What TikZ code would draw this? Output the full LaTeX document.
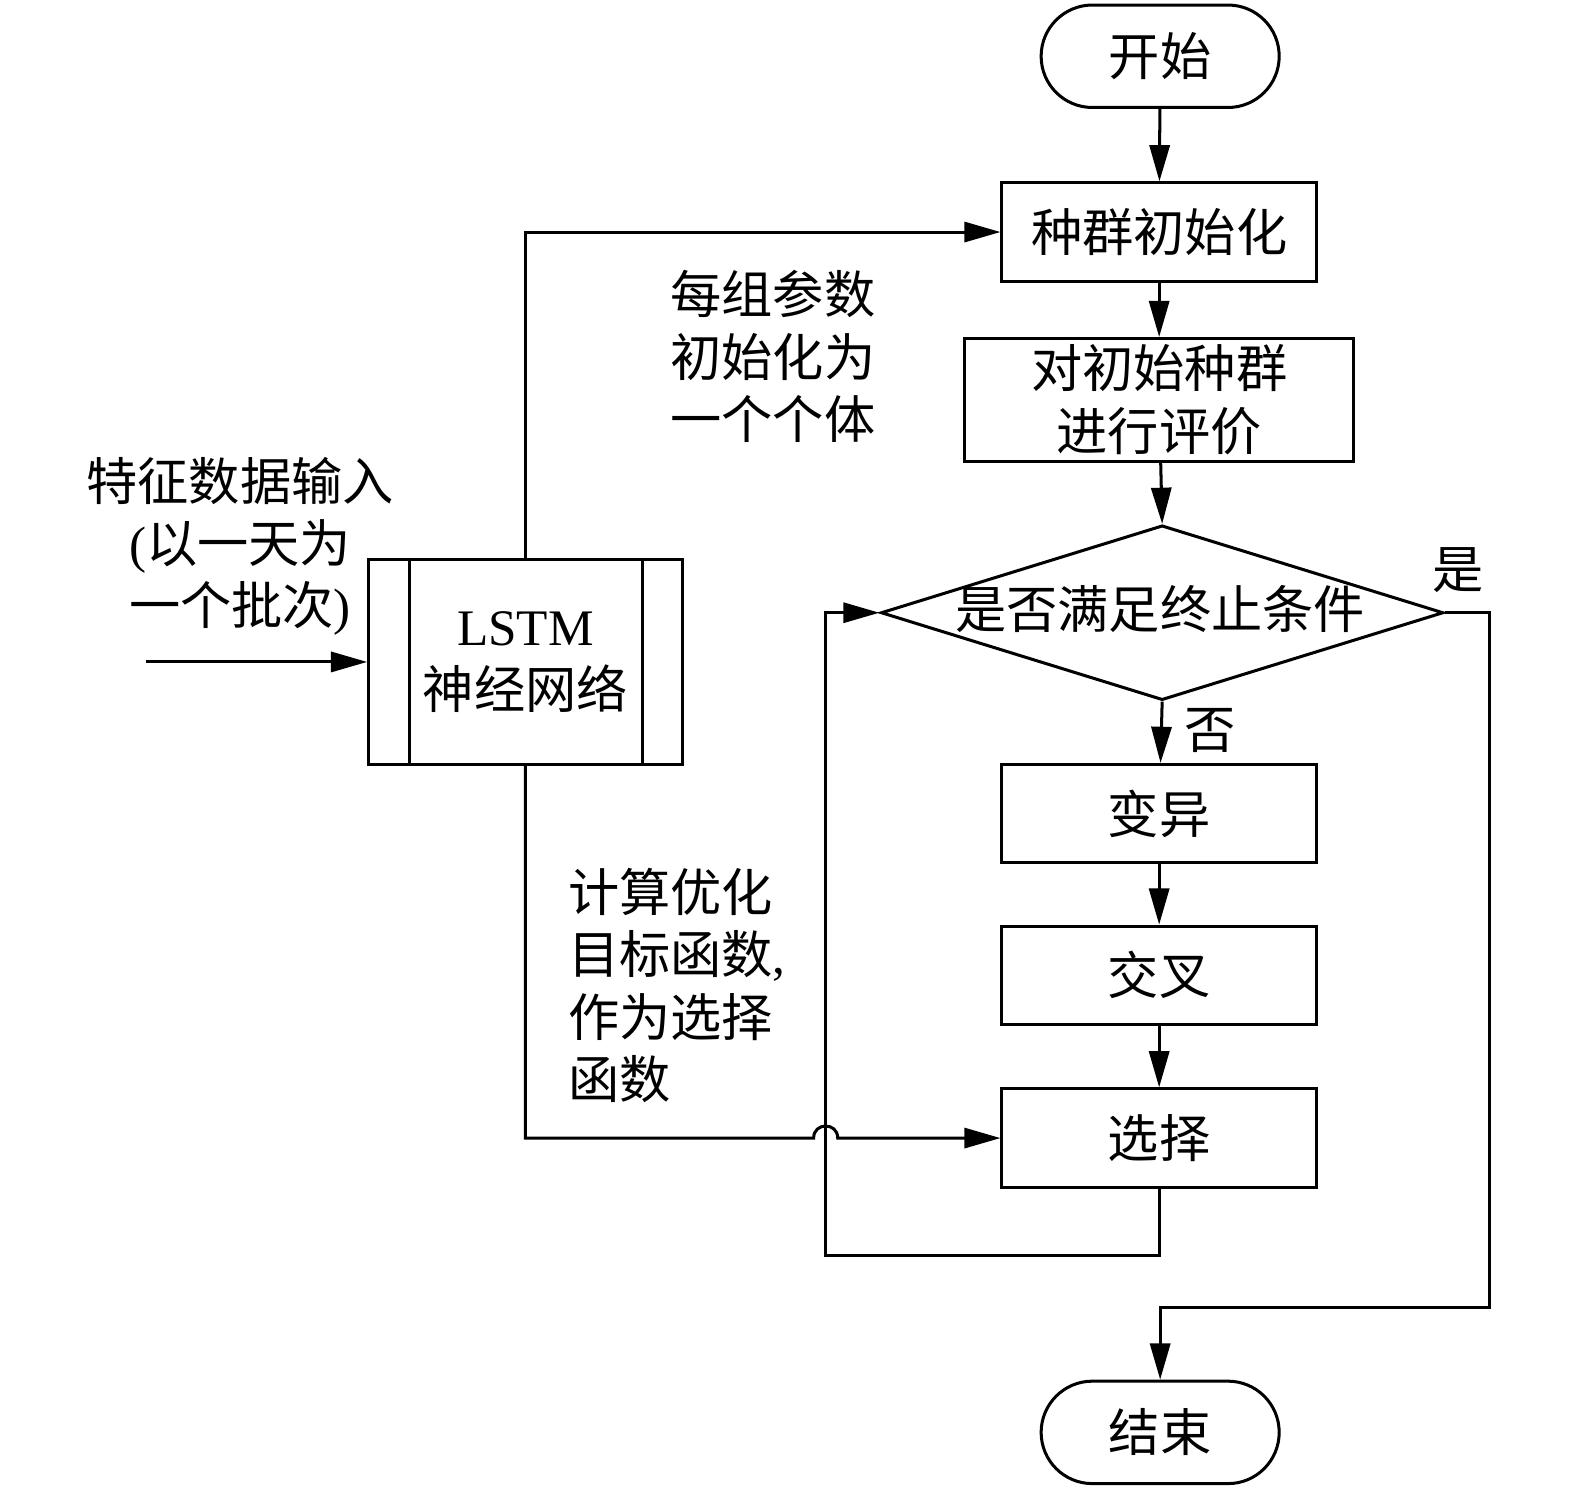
\documentclass[tikz,border=0pt]{standalone}
\usepackage{fontspec}
\setmainfont{Noto Sans CJK SC}
\newfontfamily\tnr{Liberation Serif}
\usetikzlibrary{arrows.meta,shapes.misc,shapes.geometric,calc}
\begin{document}
\begin{tikzpicture}[x=0.5pt,y=-0.5pt,line width=1.5pt,
  every node/.style={font=\fontsize{25.5pt}{31pt}\selectfont, inner sep=0pt},
  box/.style={draw, rectangle, minimum width=156.5pt, minimum height=49pt, align=center},
  term/.style={draw, rounded rectangle, minimum width=118.5pt, minimum height=51pt},
  arr/.style={-{Triangle[length=18pt,width=10pt]}},
  lbl/.style={align=left, anchor=west}]
\useasboundingbox (0,0) rectangle (1568,1484);
\node[term] (start) at (1155,56) {开始};
\node[box] (init) at (1154,231) {种群初始化};
\node[box, minimum width=193.5pt, minimum height=61pt] (eval) at (1154,398) {对初始种群\\进行评价};
\node[draw, diamond, minimum width=280pt, minimum height=87pt] (dec) at (1157,610) {};
\node (dectext) at (1155,606) {是否满足终止条件};
\node[box] (mut) at (1154,810) {变异};
\node[box] (cross) at (1154,971) {交叉};
\node[box] (sel) at (1154,1133) {选择};
\node[term] (end) at (1155,1426) {结束};
\node[draw, rectangle, minimum width=156pt, minimum height=102pt, align=center] (lstm) at (523,659) {{\tnr LSTM}\\神经网络};
\draw ($(lstm.north west)+(21pt,0)$) -- ($(lstm.south west)+(21pt,0)$);
\draw ($(lstm.north east)+(-20.5pt,0)$) -- ($(lstm.south east)+(-20.5pt,0)$);
\node[align=center] (inlbl) at (239,544) {特征数据输入\\{\tnr(}以一天为\\一个批次{\tnr)}};
\node[lbl] (plbl) at (666,355) {每组参数\\初始化为\\一个个体};
\node[lbl] (flbl) at (564,981) {计算优化\\目标函数{\tnr,}\\作为选择\\函数};
\node (yes) at (1452,568) {是};
\node (no) at (1205,727) {否};
\coordinate (in) at (145,659);
\coordinate (loopc) at (822,1250);
\coordinate (yesr) at (1483,1302);
\coordinate (j1) at (810,1133);
\coordinate (j2) at (834,1133);
\draw[arr] (start) -- (init);
\draw[arr] (init) -- (eval);
\draw[arr] (eval) -- (dec.north);
\draw[arr] (dec.south) -- (mut);
\draw[arr] (mut) -- (cross);
\draw[arr] (cross) -- (sel);
\draw[arr] (sel.south) |- (loopc) |- (dec.west);
\draw[arr] (dec.east) -| (yesr) -| (end.north);
\draw[arr] (in) -- (lstm.west);
\draw[arr] (lstm.north) |- (init.west);
\draw[arr] (lstm.south) |- (j1) .. controls +(0,-16) and +(0,-16) .. (j2) -- (sel.west);
\end{tikzpicture}
\end{document}
